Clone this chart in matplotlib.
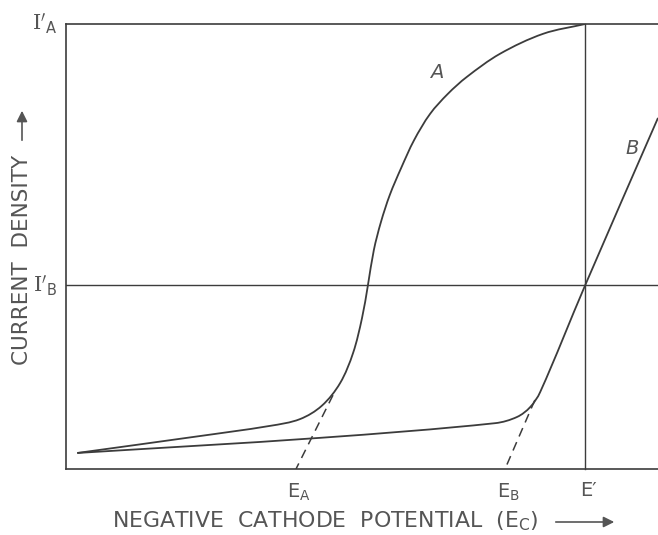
import matplotlib
matplotlib.use("Agg")
import matplotlib.pyplot as plt
import numpy as np
from matplotlib.path import Path
from matplotlib.patches import PathPatch

plt.rcParams['mathtext.fontset'] = 'dejavuserif'

# schematic polarization curves (arbitrary units 0..10)
curve_a_x = [0.19, 2.15, 3.45, 3.95, 4.32, 4.63, 4.85, 5.00, 5.10, 5.20,
             5.32, 5.47, 5.66, 5.88, 6.15, 6.45, 6.77, 7.33, 8.06, 8.77]
curve_a_y = [0.36, 0.72, 0.97, 1.12, 1.42, 1.93, 2.61, 3.39, 4.13, 4.92,
             5.55, 6.16, 6.76, 7.39, 7.98, 8.43, 8.81, 9.33, 9.78, 10.0]

curve_b_x = [0.19, 4.29, 7.25, 7.62, 7.84, 8.01, 8.77, 10.0]
curve_b_y = [0.36, 0.70, 1.03, 1.17, 1.39, 1.73, 4.13, 7.89]

# tangent extrapolations down to the potential axis
tangent_a_x = [4.51, 3.885]
tangent_a_y = [1.66, 0.0]
tangent_b_x = [7.92, 7.416]
tangent_b_y = [1.55, 0.0]

e_ticks = [3.885, 7.416, 8.77]
e_labels = [r"E$_\mathsf{A}$", r"E$_\mathsf{B}$", "E\u2032"]
i_a_level = 10.0
i_b_level = 4.13
e_prime = 8.77

ink = '#3c3c3c'
txt = '#555555'


def smooth_path(xs, ys, sx=59.2, sy=44.5):
    """Bezier path through the points, handles scaled by chord length."""
    p = np.column_stack([np.asarray(xs) * sx, np.asarray(ys) * sy])
    n = len(p)
    tang = []
    for i in range(n):
        d = p[min(i + 1, n - 1)] - p[max(i - 1, 0)]
        tang.append(d / np.hypot(*d))
    verts = [p[0]]
    codes = [Path.MOVETO]
    for i in range(n - 1):
        L = np.hypot(*(p[i + 1] - p[i])) / 3
        verts += [p[i] + tang[i] * L, p[i + 1] - tang[i + 1] * L, p[i + 1]]
        codes += [Path.CURVE4] * 3
    verts = np.array(verts) / [sx, sy]
    return Path(verts, codes)


fig = plt.figure(figsize=(6.58, 5.35), dpi=100)
ax = fig.add_axes([66 / 658, 66 / 535, 592 / 658, 445 / 535])
ax.set_xlim(0, 10)
ax.set_ylim(0, 10)
for s in ['top', 'right']:
    ax.spines[s].set_visible(False)
for s in ['left', 'bottom']:
    ax.spines[s].set_color(ink)
    ax.spines[s].set_linewidth(1.2)
ax.set_xticks([])
ax.set_yticks([])

# reference lines
ax.plot([0, 10], [i_a_level, i_a_level], color=ink, lw=1.2, clip_on=False)
ax.plot([0, 10], [i_b_level, i_b_level], color=ink, lw=1.0)
ax.plot([e_prime, e_prime], [0, i_a_level], color=ink, lw=1.0, clip_on=False)

# curves
ax.add_patch(PathPatch(smooth_path(curve_a_x, curve_a_y), fill=False,
                       edgecolor=ink, lw=1.3))
ax.add_patch(PathPatch(smooth_path(curve_b_x, curve_b_y), fill=False,
                       edgecolor=ink, lw=1.3, clip_on=False))
ax.plot(tangent_a_x, tangent_a_y, color=ink, lw=1.1, ls=(0, (6, 4)))
ax.plot(tangent_b_x, tangent_b_y, color=ink, lw=1.1, ls=(0, (6, 4)))

ax.text(6.27, 8.92, "A", style='italic', fontsize=14, color=txt,
        ha='center', va='center')
ax.text(9.56, 7.21, "B", style='italic', fontsize=14, color=txt,
        ha='center', va='center')

# potential labels under the axis
for xv, lab in zip(e_ticks, e_labels):
    ax.text(xv + 0.05, -0.27, lab, fontsize=14, color=txt,
            ha='center', va='top')

# current levels left of the axis
ax.text(-0.15, i_a_level, r"$\mathrm{I}'_\mathsf{A}$", fontsize=15,
        color=txt, ha='right', va='center')
ax.text(-0.15, i_b_level, r"$\mathrm{I}'_\mathsf{B}$", fontsize=15,
        color=txt, ha='right', va='center')

# axis titles with arrows
fig.text(325 / 658, 14 / 535, r"NEGATIVE  CATHODE  POTENTIAL  (E$_\mathsf{C}$)",
         fontsize=15.8, color=txt, ha='center', va='center')
fig.text(22 / 658, (535 - 260) / 535, "CURRENT  DENSITY", rotation=90,
         fontsize=15.5, color=txt, ha='center', va='center')
ax.annotate("", xy=(617, 13), xytext=(553, 13), xycoords='figure pixels',
            textcoords='figure pixels',
            arrowprops=dict(arrowstyle='-|>', color=txt, lw=1.2,
                            mutation_scale=16))
ax.annotate("", xy=(22, 427), xytext=(22, 392), xycoords='figure pixels',
            textcoords='figure pixels',
            arrowprops=dict(arrowstyle='-|>', color=txt, lw=1.2,
                            mutation_scale=16))

fig.savefig("out.png", dpi=100, facecolor='white')
